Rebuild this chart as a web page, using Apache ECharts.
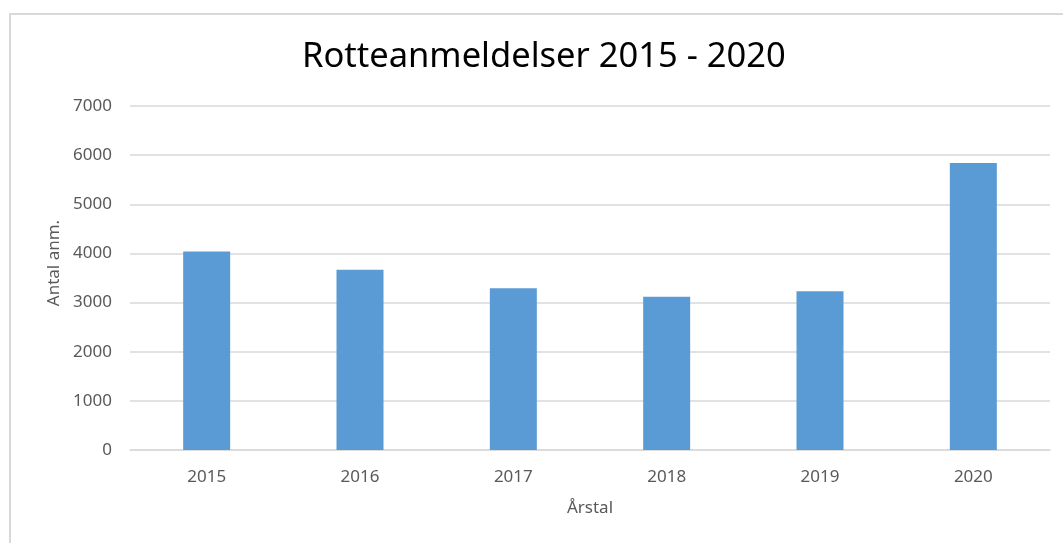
<!DOCTYPE html>
<html>
<head>
<meta charset="utf-8">
<script src="https://cdn.jsdelivr.net/npm/echarts@6/dist/echarts.min.js"></script>
<style>
  html, body { margin: 0; padding: 0; background: #fff; }
  #wrap { position: relative; width: 1063px; height: 543px; overflow: hidden; }
  #frame { position: absolute; left: 9px; top: 13px; width: 1100px; height: 600px;
           border-top: 2px solid #d9d9d9; border-left: 2px solid #d9d9d9; }
  #chart { position: absolute; left: 0; top: 0; width: 1063px; height: 543px; }
</style>
</head>
<body>
<div id="wrap">
  <div id="frame"></div>
  <div id="chart"></div>
</div>
<script>
// Årstal og antal rotteanmeldelser
const years = ["2015", "2016", "2017", "2018", "2019", "2020"];
const anmeldelser = [4040, 3670, 3290, 3120, 3230, 5840];

const chart = echarts.init(document.getElementById("chart"));

const options = {
  title: {
    text: "Rotteanmeldelser 2015 - 2020",
    left: 297,
    top: 35,
    textStyle: {
      fontFamily: "Noto Sans",
      fontSize: 34.5,
      fontWeight: "normal",
      color: "#000"
    }
  },
  grid: {
    left: 130,
    right: 13,
    top: 106,
    bottom: 93
  },
  xAxis: {
    type: "category",
    data: years,
    name: "Årstal",
    nameLocation: "middle",
    nameGap: 50,
    nameTextStyle: { fontFamily: "Noto Sans", fontSize: 17, color: "#595959" },
    axisLine: { lineStyle: { color: "#d9d9d9", width: 1.5 } },
    axisTick: { show: false },
    axisLabel: { margin: 19, fontFamily: "Noto Sans", fontSize: 17, color: "#595959" }
  },
  yAxis: {
    type: "value",
    min: 0,
    max: 7000,
    interval: 1000,
    name: "Antal anm.",
    nameLocation: "middle",
    nameGap: 65,
    nameRotate: 90,
    nameTextStyle: { fontFamily: "Noto Sans", fontSize: 17, color: "#595959", padding: [0, 0, 0, 30] },
    axisLine: { show: false },
    axisTick: { show: false },
    axisLabel: {
      margin: 18,
      fontFamily: "Noto Sans",
      fontSize: 17,
      color: "#595959",
      formatter: function (v) { return String(v); }
    },
    splitLine: { lineStyle: { color: "#d9d9d9", width: 1.5 } }
  },
  series: [
    {
      type: "bar",
      data: anmeldelser,
      barWidth: 47,
      itemStyle: { color: "#5b9bd5" }
    }
  ]
};

chart.setOption(options);
</script>
</body>
</html>
